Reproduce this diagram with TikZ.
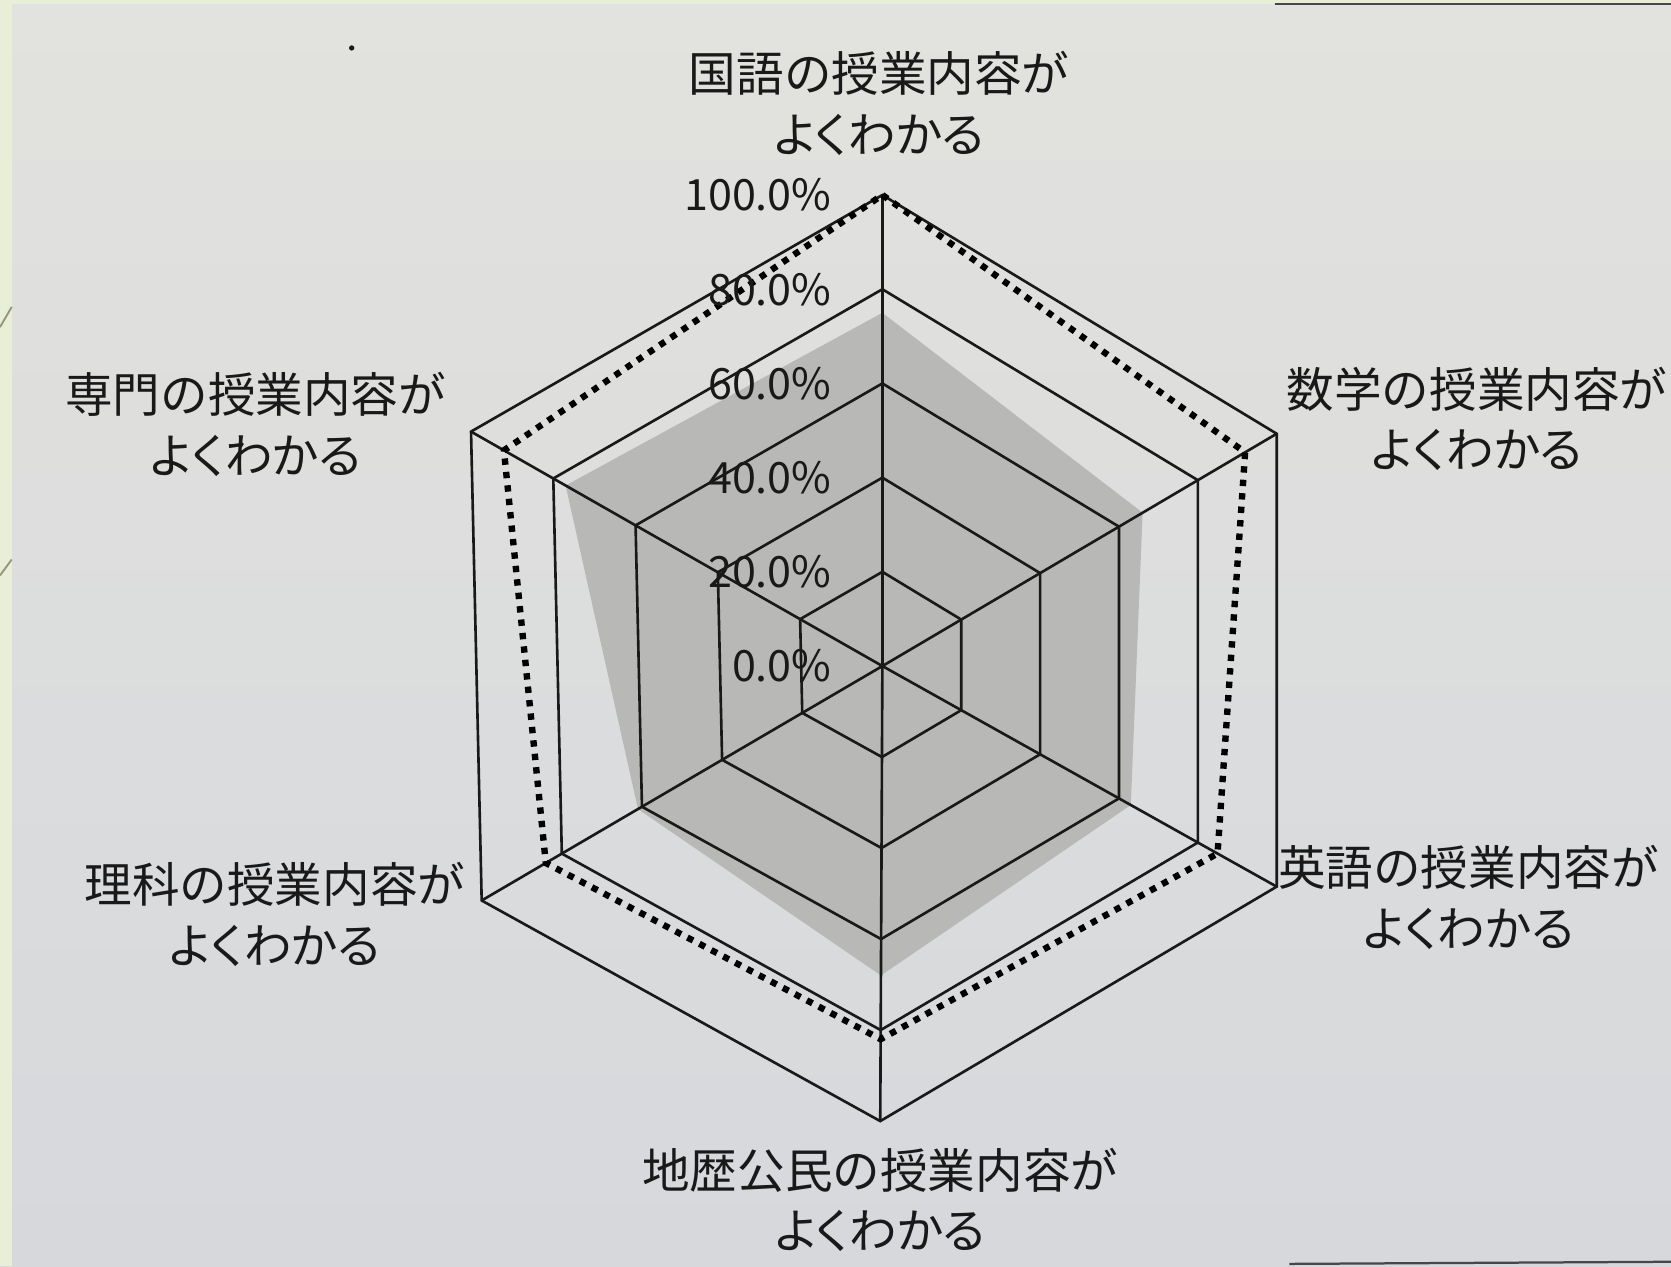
\documentclass[tikz,border=0pt]{standalone}
\usepackage{fontspec}
\setmainfont{Noto Sans CJK JP}
\newfontfamily\kana[RawFeature=+palt]{Noto Sans CJK JP}
\usetikzlibrary{calc}
\definecolor{paper}{RGB}{226,226,222}
\definecolor{paperb}{RGB}{214,216,220}
\definecolor{band}{RGB}{232,239,214}
\definecolor{area}{RGB}{184,184,182}
\definecolor{ink}{RGB}{25,25,25}
\definecolor{deco}{RGB}{150,150,120}
\begin{document}
\begin{tikzpicture}[x=0.01cm,y=-0.01cm,
  grid/.style={draw=ink,line width=0.7pt,line join=miter},
  series/.style={draw=black,line width=1.7pt,dash pattern=on 1.7pt off 1.9pt},
  cat/.style={font=\fontsize{12.7}{16.2}\selectfont,align=center,inner sep=0pt,text=ink},
  pct/.style={font=\fontsize{11.5}{14}\selectfont,anchor=east,inner sep=0pt,text=ink}]
\useasboundingbox (0,0) rectangle (1568,1188);
\shade[top color=paper,bottom color=paperb] (0,0) rectangle (1568,1188);
\fill[band] (0,0) rectangle (1568,4);
\fill[band] (0,0) rectangle (11,1188);
\draw[deco,line width=0.5pt] (0,307) -- (11,288);
\draw[deco,line width=0.5pt] (0,540) -- (11,525);
\draw[ink!80,line width=0.6pt] (1196,4) -- (1568,4);
\draw[ink!80,line width=0.6pt] (1210,1186) -- (1568,1184);
\fill[ink] (330,45) circle (2.5);
% axes
\coordinate (C) at (828,625);
\coordinate (A0) at (828,183);
\coordinate (A1) at (1198,407);
\coordinate (A2) at (1198,832);
\coordinate (A3) at (826,1052);
\coordinate (A4) at (452,845);
\coordinate (A5) at (442,405);
% grey series
\fill[area] ($(C)!0.75!(A0)$) -- ($(C)!0.66!(A1)$) -- ($(C)!0.63!(A2)$) -- ($(C)!0.68!(A3)$) -- ($(C)!0.61!(A4)$) -- ($(C)!0.77!(A5)$) -- cycle;
% grid
\foreach \f in {0.2,0.4,0.6,0.8,1.0}
  \draw[grid] ($(C)!\f!(A0)$) -- ($(C)!\f!(A1)$) -- ($(C)!\f!(A2)$) -- ($(C)!\f!(A3)$) -- ($(C)!\f!(A4)$) -- ($(C)!\f!(A5)$) -- cycle;
\foreach \i in {0,...,5}
  \draw[grid] (C) -- (A\i);
% dotted series
\draw[series] ($(C)!1.0!(A0)$) -- ($(C)!0.92!(A1)$) -- ($(C)!0.85!(A2)$) -- ($(C)!0.82!(A3)$) -- ($(C)!0.84!(A4)$) -- ($(C)!0.92!(A5)$) -- cycle;
% percent labels
\foreach \f/\t [count=\k] in {0/0.0\%,0.2/20.0\%,0.4/40.0\%,0.6/60.0\%,0.8/80.0\%,1.0/100.0\%}
  \node[pct] (p\k) at ($(C)!\f!(A0)+(-47,0)$) {\t};
% category labels
\node[cat] (l0) at (825,97) {国語の授業内容が\\{\kana よくわかる}};
\node[cat] (l1) at (1386,393) {数学の授業内容が\\{\kana よくわかる}};
\node[cat] (l2) at (1378,842) {英語の授業内容が\\{\kana よくわかる}};
\node[cat] (l3) at (826,1126) {地歴公民の授業内容が\\{\kana よくわかる}};
\node[cat] (l4) at (258,858) {理科の授業内容が\\{\kana よくわかる}};
\node[cat] (l5) at (240,398) {専門の授業内容が\\{\kana よくわかる}};
\end{tikzpicture}
\end{document}
